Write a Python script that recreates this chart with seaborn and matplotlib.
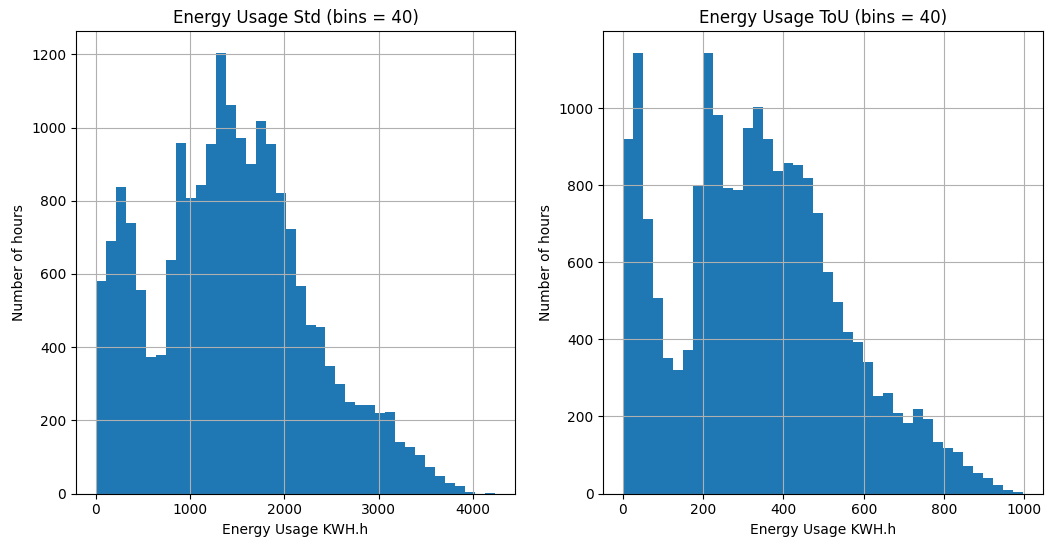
import numpy as np
import pandas as pd
import seaborn as sns
import matplotlib
matplotlib.use("Agg")
import matplotlib.pyplot as plt

# Histogram counts (40 bins each)
std_counts = [581, 690, 839, 740, 557, 372, 378, 637, 958, 807,
              844, 956, 1204, 1063, 972, 900, 1017, 956, 822, 724,
              566, 461, 456, 348, 298, 249, 242, 242, 220, 223,
              140, 126, 106, 72, 47, 30, 21, 5, 0, 2]
tou_counts = [919, 1143, 713, 508, 351, 321, 372, 799, 1143, 981,
              792, 788, 948, 1003, 919, 837, 857, 852, 818, 729,
              574, 498, 419, 392, 342, 252, 260, 209, 184, 220,
              193, 133, 119, 108, 71, 52, 39, 22, 10, 3]
std_range = (0.0, 4236.0)
tou_range = (1.7, 996.5)
n_bins = 40

titles = ["Energy Usage Std (bins = 40)", "Energy Usage ToU (bins = 40)"]
xlabel = "Energy Usage KWH.h"
ylabel = "Number of hours"

fig = plt.figure(figsize=(10.46, 5.40), dpi=100)
ax1 = fig.add_axes([0.0727, 0.0861, 0.4197, 0.8565])
ax2 = fig.add_axes([0.5768, 0.0861, 0.4204, 0.8565])

for ax, counts, rng, title in [(ax1, std_counts, std_range, titles[0]),
                               (ax2, tou_counts, tou_range, titles[1])]:
    edges = np.linspace(rng[0], rng[1], n_bins + 1)
    centers = (edges[:-1] + edges[1:]) / 2
    df = pd.DataFrame({"x": centers, "w": counts})
    sns.histplot(data=df, x="x", weights="w", bins=n_bins, binrange=rng, ax=ax,
                 color="#1f77b4", alpha=1.0, linewidth=0, edgecolor="none")
    ax.grid(True, color="#b0b0b0", linewidth=0.8)
    ax.set_title(title, fontsize=12)
    ax.set_xlabel(xlabel, fontsize=10)
    ax.set_ylabel(ylabel, fontsize=10)
    span = rng[1] - rng[0]
    ax.set_xlim(rng[0] - 0.05 * span, rng[1] + 0.05 * span)
    ax.set_ylim(0, max(counts) * 1.05)

ax1.set_xticks([0, 1000, 2000, 3000, 4000])
ax1.set_yticks(range(0, 1201, 200))
ax2.set_xticks(range(0, 1001, 200))
ax2.set_yticks(range(0, 1001, 200))

fig.savefig("out.png", dpi=100)
